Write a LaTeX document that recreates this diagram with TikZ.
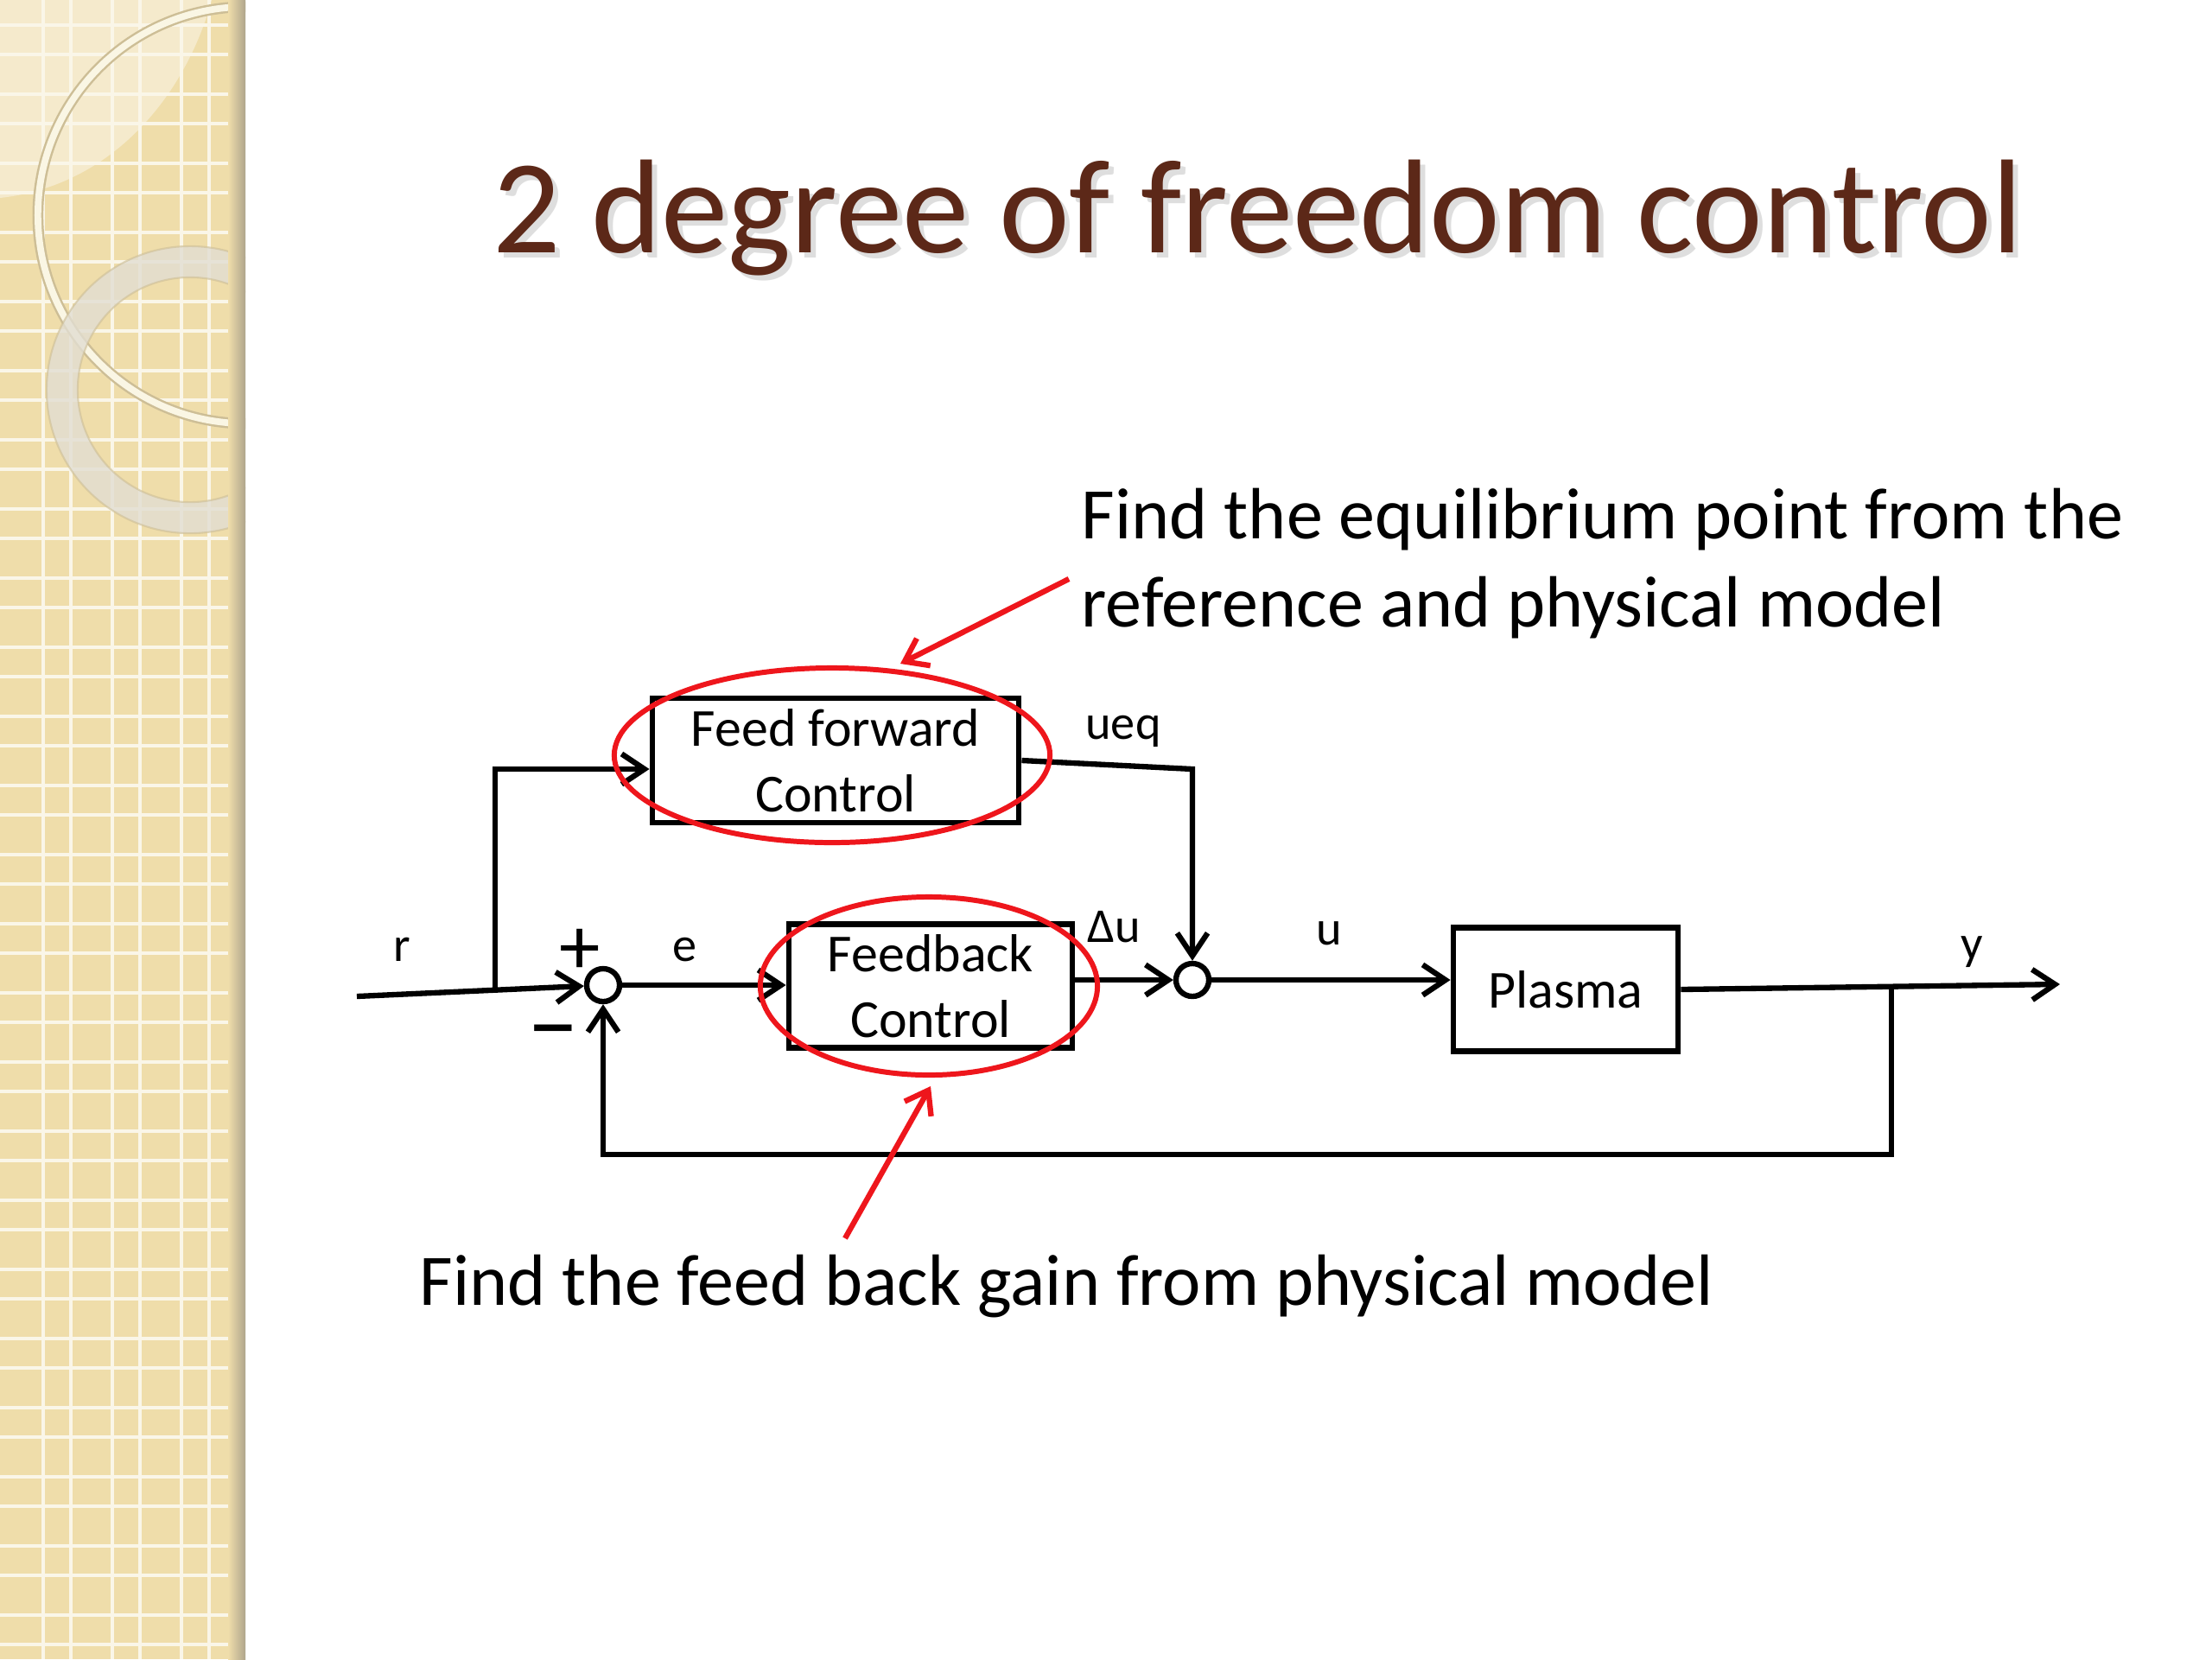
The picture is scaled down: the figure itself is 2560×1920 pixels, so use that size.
\documentclass[tikz,border=0pt]{standalone}
\usepackage{fontspec}
\setmainfont{Carlito}
\usetikzlibrary{arrows.meta,calc}
\definecolor{titlebrown}{RGB}{92,40,24}
\definecolor{sidetan}{RGB}{239,221,170}
\definecolor{sidelight}{RGB}{245,234,204}
\definecolor{gridline}{RGB}{250,246,232}
\definecolor{ringcream}{RGB}{250,246,228}
\definecolor{ringedge}{RGB}{205,190,150}
\definecolor{ringgray}{RGB}{226,222,210}
\definecolor{edgeshade}{RGB}{175,165,140}
\definecolor{annred}{RGB}{238,22,28}
\newcommand\ttlfont{\fontsize{44pt}{52pt}\selectfont}
\newcommand\annfont{\fontsize{23.9pt}{28pt}\selectfont}
\newcommand\bxfont{\fontsize{17.6pt}{21.6pt}\selectfont}
\newcommand\lblfont{\fontsize{16pt}{19pt}\selectfont}
\newcommand\sgnfont{\fontsize{27pt}{30pt}\selectfont}
\newcommand\mnsfont{\fontsize{33pt}{36pt}\selectfont}
\begin{document}
\begin{tikzpicture}[x=0.01cm,y=-0.01cm,
  blk/.style={draw=black,line width=1.9pt,rectangle,align=center,inner sep=0pt,font=\bxfont},
  sum/.style={draw=black,line width=1.8pt,circle,minimum size=0.38cm,inner sep=0pt},
  wire/.style={line width=1.8pt,line join=miter},
  arr/.style={wire,-{Straight Barb[length=7.5pt,width=10pt]}},
  redarr/.style={draw=annred,line width=1.8pt,-{Straight Barb[length=7pt,width=10pt]}},
  lbl/.style={inner sep=0pt,font=\lblfont,anchor=base},
  sgn/.style={inner sep=0pt,font=\sgnfont},
  ann/.style={inner sep=0pt,font=\annfont,anchor=base west}]
\fill[white] (0,0) rectangle (2560,1920);
\useasboundingbox (0,0) rectangle (2560,1920);
% sidebar
\begin{scope}
\clip (0,0) rectangle (284,1920);
\fill[sidetan] (0,0) rectangle (284,1920);
\fill[sidelight] (0,0) -- (245,0) .. controls (215,110) and (130,215) .. (0,229) -- cycle;
\foreach \k in {0,...,3} {
  \draw[gridline,line width=1pt] ({50+80*\k},0) -- ++(0,1920);
  \draw[gridline,line width=1pt] ({82+80*\k},0) -- ++(0,1920);
}
\foreach \k in {0,...,23} {
  \draw[gridline,line width=1pt] (0,{29+80*\k}) -- ++(284,0);
  \draw[gridline,line width=1pt] (0,{63+80*\k}) -- ++(284,0);
}
\draw[ringedge,line width=3.6pt] (285,249) circle [radius=2.41cm];
\draw[ringcream,line width=2.2pt] (285,249) circle [radius=2.41cm];
\draw[ringgray,opacity=0.8,line width=10.2pt] (220,451) circle [radius=1.48cm];
\draw[ringedge,opacity=0.6,line width=0.6pt] (220,451) circle [radius=1.66cm];
\draw[ringedge,opacity=0.6,line width=0.6pt] (220,451) circle [radius=1.30cm];
\shade[left color=sidetan,right color=edgeshade] (264,0) rectangle (284,1920);
\end{scope}
% title
\node[inner sep=0pt,anchor=base west,font=\ttlfont,text=black!25,opacity=0.5] (ttlshadow) at (576,298) {2 degree of freedom control};
\node[inner sep=0pt,anchor=base west,font=\ttlfont,text=titlebrown] (ttl) at (570,292) {2 degree of freedom control};
% blocks
\node[blk,minimum width=4.24cm,minimum height=1.44cm] (ff) at (967,880) {Feed forward\\Control};
\node[blk,minimum width=3.28cm,minimum height=1.43cm] (fb) at (1077,1141) {Feedback\\Control};
\node[blk,minimum width=2.60cm,minimum height=1.43cm] (pl) at (1812,1145) {Plasma};
\node[sum] (s1) at (698,1140) {};
\node[sum] (s2) at (1380,1134) {};
% connectors
\coordinate (rin) at (413,1153);
\coordinate (rbr) at (573,1146);
\coordinate (rtop) at (573,890);
\coordinate (ffc) at (1380,890);
\coordinate (yout) at (2384,1139);
\coordinate (ybr) at (2189,1143);
\coordinate (fbk) at (2189,1336);
\draw[arr] (rin) -- (s1);
\draw[arr] (rbr) -- (rtop) -- (rtop -| ff.west);
\draw[arr] (ff.east) -- (ffc) -- (s2);
\draw[arr] (s1.east) -- (s1.east -| fb.west);
\draw[arr] (fb.east |- s2.west) -- (s2.west);
\draw[arr] (s2.east) -- (s2.east -| pl.west);
\draw[arr] (pl.east) -- (yout);
\draw[arr] (ybr) -- (fbk) -| (s1.south);
% labels
\node[lbl] (lr) at (465,1112) {r};
\node[sgn] (lplus) at (671,1101) {+};
\node[inner sep=0pt,font=\mnsfont] (lminus) at (640,1206) {−};
\node[lbl] (le) at (792,1112) {e};
\node[lbl] (ldu) at (1289,1090) {Δu};
\node[lbl] (lueq) at (1300,855) {ueq};
\node[lbl] (lu) at (1538,1093) {u};
\node[lbl] (ly) at (2282,1110) {y};
% red annotations
\draw[annred,line width=1.7pt] (963,874) ellipse [x radius=2.52cm, y radius=1.01cm];
\draw[annred,line width=1.7pt] (1075,1141) ellipse [x radius=1.95cm, y radius=1.03cm];
\coordinate (a1s) at (1237,670);
\coordinate (a1e) at (1042,768);
\draw[redarr] (a1s) -- (a1e);
\coordinate (a2s) at (978,1433);
\coordinate (a2e) at (1077,1257);
\draw[redarr] (a2s) -- (a2e);
\node[ann] (t1) at (1251,623) {Find the equilibrium point from the};
\node[ann] (t2) at (1251,725) {reference and physical model};
\node[ann] (t3) at (485,1510) {Find the feed back gain from physical model};
\end{tikzpicture}
\end{document}
